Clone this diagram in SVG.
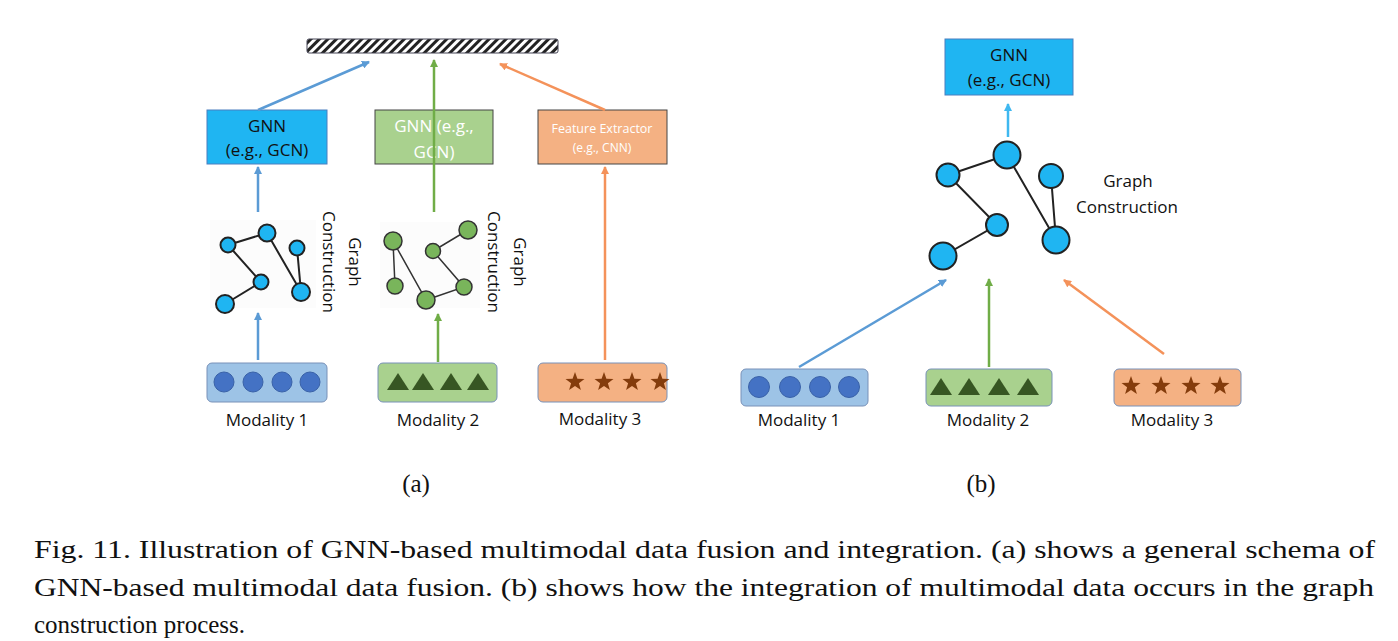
<svg xmlns="http://www.w3.org/2000/svg" width="1398" height="641" viewBox="0 0 1398 641">
<defs>
<pattern id="hatch" width="6" height="6" patternUnits="userSpaceOnUse" patternTransform="rotate(45)">
<rect width="6" height="6" fill="#fff"/><rect width="3" height="6" fill="#222"/></pattern>
<marker id="ab" markerWidth="8" markerHeight="8" refX="7" refY="4" orient="auto" markerUnits="userSpaceOnUse"><path d="M0,0 L8,4 L0,8z" fill="#5b9bd5"/></marker>
<marker id="ag" markerWidth="8" markerHeight="8" refX="7" refY="4" orient="auto" markerUnits="userSpaceOnUse"><path d="M0,0 L8,4 L0,8z" fill="#70ad47"/></marker>
<marker id="ao" markerWidth="8" markerHeight="8" refX="7" refY="4" orient="auto" markerUnits="userSpaceOnUse"><path d="M0,0 L8,4 L0,8z" fill="#f4925a"/></marker>
<marker id="ac" markerWidth="8" markerHeight="8" refX="7" refY="4" orient="auto" markerUnits="userSpaceOnUse"><path d="M0,0 L8,4 L0,8z" fill="#3fb8f0"/></marker>
<path id="star" d="M0,-10 L2.4,-3.3 L9.5,-3.1 L3.9,1.3 L5.9,8.1 L0,4.1 L-5.9,8.1 L-3.9,1.3 L-9.5,-3.1 L-2.4,-3.3Z" fill="#843c0c"/>
<path id="tri" d="M-11,8 L0,-9 L11,8Z" fill="#375623"/>
</defs>
<style>
text{font-family:"Open Sans","DejaVu Sans",sans-serif;fill:#111}
.lbl{font-size:17px}
.cap{font-family:"Liberation Serif",serif;font-size:25px}
.e{stroke:#222;stroke-width:2;fill:none}
.nb{fill:#1fb5f2;stroke:#222;stroke-width:2}
.ng{fill:#79b55b;stroke:#333;stroke-width:1.5}
.bl{stroke:#5b9bd5;stroke-width:2.5;fill:none}
.gr{stroke:#70ad47;stroke-width:2.5;fill:none}
.or{stroke:#f4925a;stroke-width:2.5;fill:none}
</style>
<rect width="1398" height="641" fill="#fff"/>
<!-- panel a -->
<g id="fusion-bar"><rect x="307" y="39" width="251" height="14" rx="2" fill="url(#hatch)" stroke="#445" stroke-width="1"/></g>
<g id="gnn-a1"><rect x="207" y="110" width="120" height="54" fill="#1fb5f2" stroke="#4a7fc0"/><text x="267" y="132" text-anchor="middle" font-size="17">GNN</text><text x="267" y="156" text-anchor="middle" font-size="17">(e.g., GCN)</text></g>
<g id="gnn-a2"><rect x="375" y="110" width="118" height="54" fill="#a9d18e" stroke="#444"/><text x="434" y="132" text-anchor="middle" font-size="17" style="fill:#fff">GNN (e.g.,</text><text x="434" y="158" text-anchor="middle" font-size="17" style="fill:#fff">GCN)</text></g>
<g id="feat-a3"><rect x="538" y="110" width="129" height="54" fill="#f4b183" stroke="#444"/><text x="602" y="133" text-anchor="middle" font-size="12.5" style="fill:#fff">Feature Extractor</text><text x="602" y="152" text-anchor="middle" font-size="12" style="fill:#fff">(e.g., CNN)</text></g>
<g id="graph-a1">
<rect x="210" y="220" width="106" height="88" fill="#fcfcfc"/>
<path class="e" d="M228,245 L267,233 M228,245 L261,282 L225,304 M267,233 L301,292 M297,248 L301,292"/>
<circle class="nb" cx="228" cy="245" r="7.5"/><circle class="nb" cx="267" cy="233" r="8.5"/><circle class="nb" cx="297" cy="248" r="7.5"/><circle class="nb" cx="261" cy="282" r="7.5"/><circle class="nb" cx="301" cy="292" r="9"/><circle class="nb" cx="225" cy="304" r="9"/>
<text transform="translate(323,262) rotate(90)" text-anchor="middle" class="lbl">Construction</text>
<text transform="translate(349,262) rotate(90)" text-anchor="middle" class="lbl">Graph</text>
</g>
<g id="graph-a2">
<rect x="380" y="222" width="100" height="86" fill="#fcfcfc"/>
<path d="M393,241 L395,286 M393,241 L426,300 L464,287 L433,251 L468,230" stroke="#333" stroke-width="1.5" fill="none"/>
<circle class="ng" cx="393" cy="241" r="9"/><circle class="ng" cx="468" cy="230" r="9"/><circle class="ng" cx="433" cy="251" r="7.5"/><circle class="ng" cx="395" cy="286" r="8"/><circle class="ng" cx="426" cy="300" r="9"/><circle class="ng" cx="464" cy="287" r="8"/>
<text transform="translate(488,262) rotate(90)" text-anchor="middle" class="lbl">Construction</text>
<text transform="translate(514,262) rotate(90)" text-anchor="middle" class="lbl">Graph</text>
</g>
<g id="mod-a1"><rect x="207" y="363" width="120" height="39" rx="5" fill="#9dc3e6" stroke="#7891b8"/><g fill="#4472c4" stroke="#3a62a8"><circle cx="224" cy="382" r="10"/><circle cx="253" cy="382" r="10"/><circle cx="282" cy="382" r="10"/><circle cx="310" cy="382" r="10"/></g><text x="267" y="426" text-anchor="middle" class="lbl">Modality 1</text></g>
<g id="mod-a2"><rect x="378" y="363" width="119" height="39" rx="5" fill="#a9d18e" stroke="#7891b8"/><use href="#tri" x="398" y="382"/><use href="#tri" x="423" y="382"/><use href="#tri" x="451" y="382"/><use href="#tri" x="478" y="382"/><text x="438" y="426" text-anchor="middle" class="lbl">Modality 2</text></g>
<g id="mod-a3"><rect x="538" y="363" width="129" height="39" rx="5" fill="#f4b183" stroke="#7891b8"/><use href="#star" x="575" y="382"/><use href="#star" x="604" y="382"/><use href="#star" x="632" y="382"/><use href="#star" x="660" y="382"/><text x="600" y="425" text-anchor="middle" class="lbl">Modality 3</text></g>
<!-- panel b -->
<g id="gnn-b"><rect x="945" y="39" width="128" height="56" fill="#1fb5f2" stroke="#4a7fc0"/><text x="1009" y="61" text-anchor="middle" font-size="17">GNN</text><text x="1009" y="86" text-anchor="middle" font-size="17">(e.g., GCN)</text></g>
<g id="graph-b">
<path class="e" d="M948,175 L1007,155 M948,175 L997,225 L943,256 M1007,155 L1056,240 M1051,176 L1056,240"/>
<circle class="nb" cx="948" cy="175" r="11.5"/><circle class="nb" cx="1007" cy="155" r="13.5"/><circle class="nb" cx="1051" cy="176" r="12"/><circle class="nb" cx="997" cy="225" r="11"/><circle class="nb" cx="1056" cy="240" r="13.5"/><circle class="nb" cx="943" cy="256" r="13.5"/>
<text x="1128" y="187" text-anchor="middle" class="lbl">Graph</text><text x="1127" y="213" text-anchor="middle" class="lbl">Construction</text>
</g>
<g id="mod-b1"><rect x="741" y="369" width="127" height="37" rx="5" fill="#9dc3e6" stroke="#7891b8"/><g fill="#4472c4" stroke="#3a62a8"><circle cx="759" cy="387" r="10.5"/><circle cx="790" cy="387" r="10.5"/><circle cx="820" cy="387" r="10.5"/><circle cx="849" cy="387" r="10.5"/></g><text x="799" y="426" text-anchor="middle" class="lbl">Modality 1</text></g>
<g id="mod-b2"><rect x="926" y="369" width="126" height="37" rx="5" fill="#a9d18e" stroke="#7891b8"/><use href="#tri" x="941" y="387"/><use href="#tri" x="969" y="387"/><use href="#tri" x="999" y="387"/><use href="#tri" x="1028" y="387"/><text x="988" y="426" text-anchor="middle" class="lbl">Modality 2</text></g>
<g id="mod-b3"><rect x="1114" y="369" width="127" height="37" rx="5" fill="#f4b183" stroke="#7891b8"/><use href="#star" x="1131" y="386"/><use href="#star" x="1161" y="386"/><use href="#star" x="1191" y="386"/><use href="#star" x="1220" y="386"/><text x="1172" y="426" text-anchor="middle" class="lbl">Modality 3</text></g>
<g id="connectors">
<path class="bl" marker-end="url(#ab)" d="M258,110 L369,62"/>
<path class="gr" marker-end="url(#ag)" d="M434,212 L434,60"/>
<path class="or" marker-end="url(#ao)" d="M605,110 L500,64"/>
<path class="bl" marker-end="url(#ab)" d="M258,212 L258,167"/>
<path class="bl" marker-end="url(#ab)" d="M258,360 L258,313"/>
<path class="gr" marker-end="url(#ag)" d="M438,362 L438,314"/>
<path class="or" marker-end="url(#ao)" d="M605,360 L605,167"/>
<path stroke="#3fb8f0" stroke-width="2.5" marker-end="url(#ac)" d="M1008,137 L1008,104"/>
<path class="bl" marker-end="url(#ab)" d="M799,367 L946,280"/>
<path class="gr" marker-end="url(#ag)" d="M989,367 L989,279"/>
<path class="or" marker-end="url(#ao)" d="M1164,354 L1064,280"/>
</g>
<text x="416" y="492" text-anchor="middle" class="cap">(a)</text>
<text x="981" y="492" text-anchor="middle" class="cap">(b)</text>
<text x="34" y="558" class="cap" textLength="1341" lengthAdjust="spacingAndGlyphs">Fig. 11.  Illustration of GNN-based multimodal data fusion and integration. (a) shows a general schema of</text>
<text x="34" y="596" class="cap" textLength="1340" lengthAdjust="spacingAndGlyphs">GNN-based multimodal data fusion. (b) shows how the integration of multimodal data occurs in the graph</text>
<text x="34" y="633" class="cap">construction process.</text>
</svg>
